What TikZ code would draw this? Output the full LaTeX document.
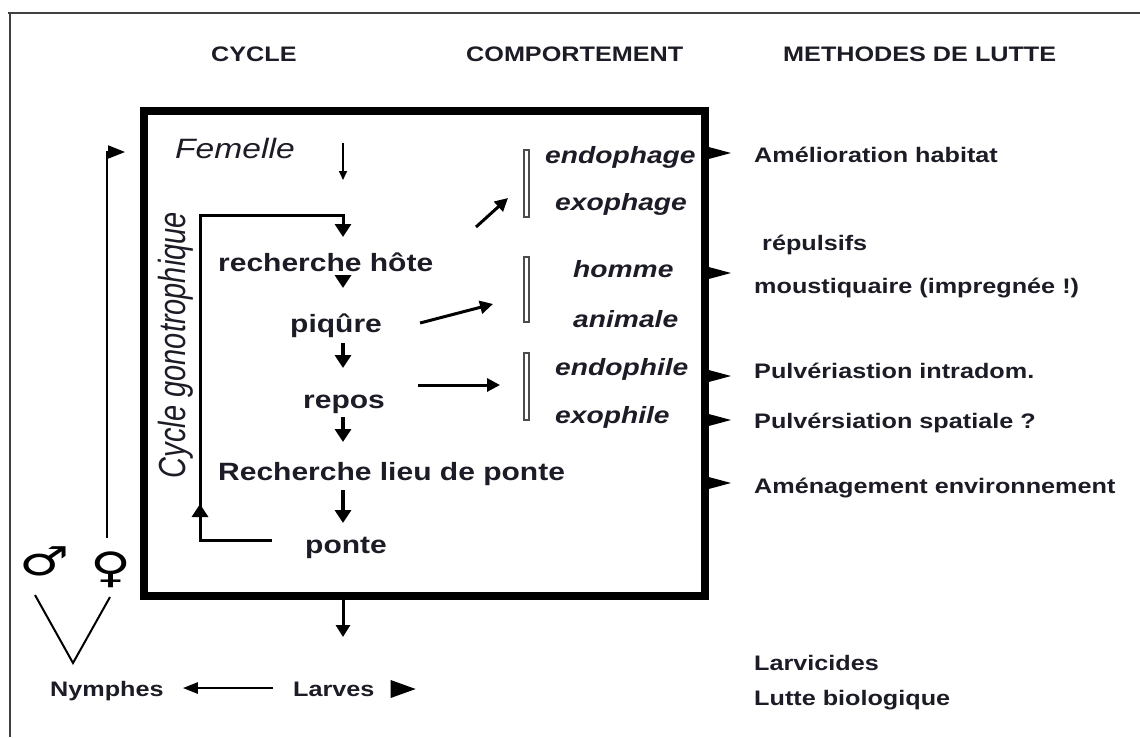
\documentclass[tikz,border=0pt]{standalone}
\usepackage{fontspec}
\usepackage{graphicx}
\setmainfont{Liberation Sans}[FakeStretch=1.2]
\newfontfamily\plainsans{Liberation Sans}
\newfontfamily\symfont{DejaVu Sans}
\usetikzlibrary{arrows.meta,calc}
\definecolor{ink}{RGB}{28,28,38}
\tikzset{
  hdr/.style={font=\fontsize{21}{21}\selectfont\bfseries, text=ink, anchor=base west, inner sep=0pt},
  lut/.style={font=\fontsize{21}{21}\selectfont\bfseries, text=ink, anchor=base west, inner sep=0pt},
  stage/.style={font=\fontsize{25}{25}\selectfont\bfseries, text=ink, anchor=base west, inner sep=0pt},
  beh/.style={font=\fontsize{23.5}{24}\selectfont\bfseries\itshape, text=ink, anchor=base west, inner sep=0pt},
  femstyle/.style={font=\fontsize{28}{28}\selectfont\itshape, text=ink, anchor=base west, inner sep=0pt},
  sym/.style={font=\symfont\fontsize{40}{40}\selectfont, text=black, inner sep=0pt},
  bigbox/.style={draw=black, line width=8pt, inner sep=0pt, outer sep=0pt},
  bar/.style={draw=black!70, line width=1.3pt, minimum width=5pt, inner sep=0pt, outer sep=0pt},
  frame/.style={draw=black!75, line width=2pt},
  bigarr/.style={draw=black, line width=4.5pt, -{Triangle[length=13pt,width=16pt]}},
  thinarr/.style={draw=black, line width=1.6pt, -{Triangle[length=9pt,width=8pt]}},
  looparr/.style={draw=black, line width=3pt, -{Triangle[length=13pt,width=16pt]}},
  carr/.style={draw=black, line width=3pt, -{Triangle[length=13pt,width=13pt]}},
  sidearr/.style={draw=black, line width=2.5pt, -{Triangle[length=15pt,width=11pt]}},
  leftarr/.style={draw=black, line width=2pt, -{Triangle[length=17pt,width=13pt]}},
  vline/.style={draw=black, line width=2pt},
  tri/.style={fill=black}
}
\begin{document}
\begin{tikzpicture}[x=1pt,y=-1pt]
\useasboundingbox (0,0) rectangle (1140,737);
\fill[white] (0,0) rectangle (1140,737);
% outer frame
\draw[frame] (8,13) -- (1140,13);
\draw[frame] (10,12) -- (10,737);

% headers
\node[hdr] (hcyc) at (211,61) {CYCLE};
\node[hdr] (hcomp) at (466,61) {COMPORTEMENT};
\node[hdr] (hmeth) at (783,61) {METHODES DE LUTTE};

% main box
\node[bigbox, minimum width=561pt, minimum height=485pt] (box) at (424.5,353.5) {};
\coordinate (ax) at (343,0);

% cycle texts
\node[femstyle] (fem) at (175,158) {Femelle};
\node[font=\plainsans\itshape\fontsize{29}{29}\selectfont, text=ink, rotate=90, anchor=base, inner sep=0pt] (cg) at (185,345) {\scalebox{1}[1.3]{Cycle gonotrophique}};
\node[stage] (rh) at (218,271) {recherche hôte};
\node[stage] (piq) at (290,332) {piqûre};
\node[stage] (rep) at (303,408) {repos};
\node[stage] (rlp) at (218,480) {Recherche lieu de ponte};
\node[stage] (pon) at (305,553) {ponte};

% cycle arrows
\draw[thinarr] ($(ax |- fem.base)+(0,-15)$) -- ($(ax |- fem.base)+(0,22)$);
\draw[looparr] ($(pon.base west)+(-33,-13)$) -- (200,540) -- (200,215) -- (343,215) -- ($(ax |- rh.base)+(0,-34)$);
\draw[looparr] (200,540) -- (200,504);
\draw[bigarr] ($(ax |- rh.base)+(0,4)$) -- ($(ax |- piq.base)+(0,-44)$);
\draw[bigarr] ($(ax |- piq.base)+(0,11)$) -- ($(ax |- rep.base)+(0,-40)$);
\draw[bigarr] ($(ax |- rep.base)+(0,9)$) -- ($(ax |- rlp.base)+(0,-38)$);
\draw[bigarr] ($(ax |- rlp.base)+(0,10)$) -- ($(ax |- pon.base)+(0,-30)$);

% behaviour
\node[bar, minimum height=67pt] (b1) at (526.5,183.5) {};
\node[bar, minimum height=65pt] (b2) at (526.5,289.5) {};
\node[bar, minimum height=67pt] (b3) at (526.5,386.5) {};
\node[beh] (endpg) at (545,163) {endophage};
\node[beh] (exopg) at (555,210) {exophage};
\node[beh] (hom) at (573,277) {homme};
\node[beh] (ani) at (573,327) {animale};
\node[beh] (endpl) at (555,375) {endophile};
\node[beh] (exopl) at (555,423) {exophile};
\draw[carr] ($(b1.west)+(-48,43.5)$) -- ($(b1.west)+(-16,14.5)$);
\draw[carr] ($(piq.base east)+(38,-9)$) -- ($(b2.west)+(-31,14.5)$);
\draw[carr] ($(b3.west)+(-106,-1.5)$) -- ($(b3.west)+(-24,-1.5)$);

% right-side triangles
\foreach \yy in {153,273,376,420,483}{
  \fill[tri] (705,\yy-7) -- (731,\yy) -- (705,\yy+7) -- cycle;
}

% methods
\node[lut] (t1) at (754,162) {Amélioration habitat};
\node[lut] (t2) at (762,250) {répulsifs};
\node[lut] (t3) at (754,293) {moustiquaire (impregnée !)};
\node[lut] (t4) at (754,378) {Pulvériastion intradom.};
\node[lut] (t5) at (754,428) {Pulvérsiation spatiale ?};
\node[lut] (t6) at (754,493) {Aménagement environnement};
\node[lut] (t7) at (754,670) {Larvicides};
\node[lut] (t8) at (754,705) {Lutte biologique};

% below box
\node[lut] (lar) at (293,696) {Larves};
\node[lut] (nym) at (50,696) {Nymphes};
\draw[bigarr, line width=3pt, -{Triangle[length=12pt,width=14pt]}] (ax |- box.south) -- ($(ax |- lar.base)+(0,-59)$);
\draw[sidearr] ($(lar.base west)+(-20,-8)$) -- ($(nym.base east)+(19,-8)$);
\fill[tri] ($(lar.base east)+(16,-16)$) -- ($(lar.base east)+(41,-7)$) -- ($(lar.base east)+(16,2)$) -- cycle;

% adults
\node[sym] (msym) at (45,561) {\scalebox{1.4}[1]{♂}};
\node[sym] (fsym) at (111,570) {\scalebox{1.4}[1.05]{♀}};
\draw[vline] (35,595) -- (73,663) -- (110,597);
\draw[leftarr] (107,538) -- (107,152) -- ($(box.west |- fem.base)+(-19,-6)$);
\end{tikzpicture}
\end{document}
